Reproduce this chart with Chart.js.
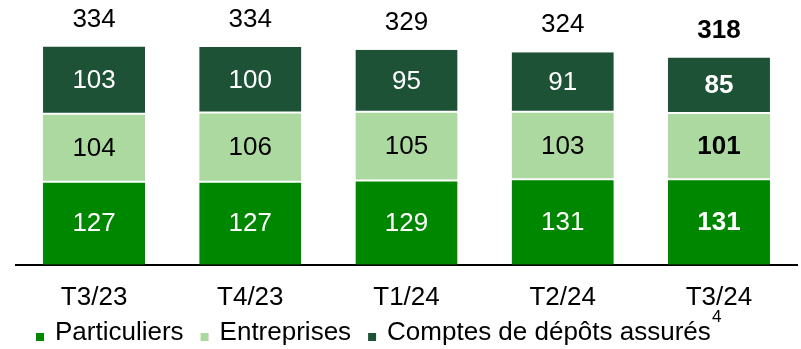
<!DOCTYPE html>
<html>
<head>
<meta charset="utf-8">
<script src="https://cdn.jsdelivr.net/npm/chart.js@4"></script>
<style>
  html, body { margin: 0; padding: 0; background: #fff; }
  #wrap { width: 801px; height: 349px; }
</style>
</head>
<body>
<div id="wrap"><canvas id="depots"></canvas></div>
<script>
const quarters = ["T3/23", "T4/23", "T1/24", "T2/24", "T3/24"];
const particuliers = [127, 127, 129, 131, 131];
const entreprises = [104, 106, 105, 103, 101];
const comptesAssures = [103, 100, 95, 91, 85];
const totals = [334, 334, 329, 324, 318];

const FONT = "'Liberation Sans', Arial, sans-serif";
const SIZE = 26;

// labels inside each segment + total above each bar
const valueLabels = {
  id: "valueLabels",
  afterDatasetsDraw(chart) {
    const ctx = chart.ctx;
    ctx.save();
    ctx.textAlign = "center";
    ctx.textBaseline = "middle";
    chart.data.datasets.forEach((ds, i) => {
      const meta = chart.getDatasetMeta(i);
      meta.data.forEach((bar, j) => {
        const last = j === quarters.length - 1;
        ctx.font = (last ? "bold " : "") + SIZE + "px " + FONT;
        ctx.fillStyle = ds.labelColor;
        ctx.fillText(ds.data[j], bar.x, (bar.y + bar.base) / 2 + 1);
      });
    });
    const top = chart.getDatasetMeta(chart.data.datasets.length - 1);
    top.data.forEach((bar, j) => {
      const last = j === quarters.length - 1;
      ctx.font = (last ? "bold " : "") + SIZE + "px " + FONT;
      ctx.fillStyle = "#000";
      ctx.fillText(totals[j], bar.x, bar.y - 27);
    });
    ctx.restore();
  }
};

// legend row under the axis labels, with the footnote mark on the last entry
const bottomLegend = {
  id: "bottomLegend",
  afterDraw(chart) {
    const ctx = chart.ctx;
    const y = 333;
    let x = 36;
    ctx.save();
    ctx.font = SIZE + "px " + FONT;
    ctx.textBaseline = "middle";
    ctx.textAlign = "left";
    chart.data.datasets.forEach((ds, i) => {
      ctx.fillStyle = ds.backgroundColor;
      ctx.fillRect(x, y, 8, 8);
      ctx.fillStyle = "#000";
      ctx.fillText(ds.label, x + 19, y);
      x += 19 + ctx.measureText(ds.label).width + 17;
    });
    ctx.font = "17px " + FONT;
    ctx.textAlign = "center";
    ctx.fillText("4", x - 17 + 6, 317);
    ctx.restore();
  }
};

new Chart(document.getElementById("depots"), {
  type: "bar",
  data: {
    labels: quarters,
    datasets: [
      {
        label: "Particuliers",
        data: particuliers,
        backgroundColor: "#008700",
        borderWidth: { top: 1, bottom: 0, left: 0, right: 0 },
        labelColor: "#fff"
      },
      {
        label: "Entreprises",
        data: entreprises,
        backgroundColor: "#acd9a0",
        borderWidth: { top: 1, bottom: 1, left: 0, right: 0 },
        labelColor: "#000"
      },
      {
        label: "Comptes de dépôts assurés",
        data: comptesAssures,
        backgroundColor: "#1d5236",
        borderWidth: { top: 0, bottom: 1, left: 0, right: 0 },
        labelColor: "#fff"
      }
    ]
  },
  options: {
    responsive: true,
    maintainAspectRatio: false,
    animation: false,
    layout: { padding: { left: 16, right: 4, top: 0, bottom: 19 } },
    datasets: {
      bar: {
        categoryPercentage: 1,
        barPercentage: 0.654,
        borderColor: "#fff",
        borderSkipped: false
      }
    },
    scales: {
      x: {
        stacked: true,
        grid: { display: false, drawTicks: false },
        border: { color: "#000", width: 2 },
        ticks: {
          color: "#000",
          padding: 17,
          font: { family: FONT, size: SIZE }
        }
      },
      y: {
        stacked: true,
        display: false,
        min: 0,
        max: 405
      }
    },
    plugins: {
      legend: { display: false },
      tooltip: { enabled: false }
    }
  },
  plugins: [valueLabels, bottomLegend]
});
</script>
</body>
</html>
